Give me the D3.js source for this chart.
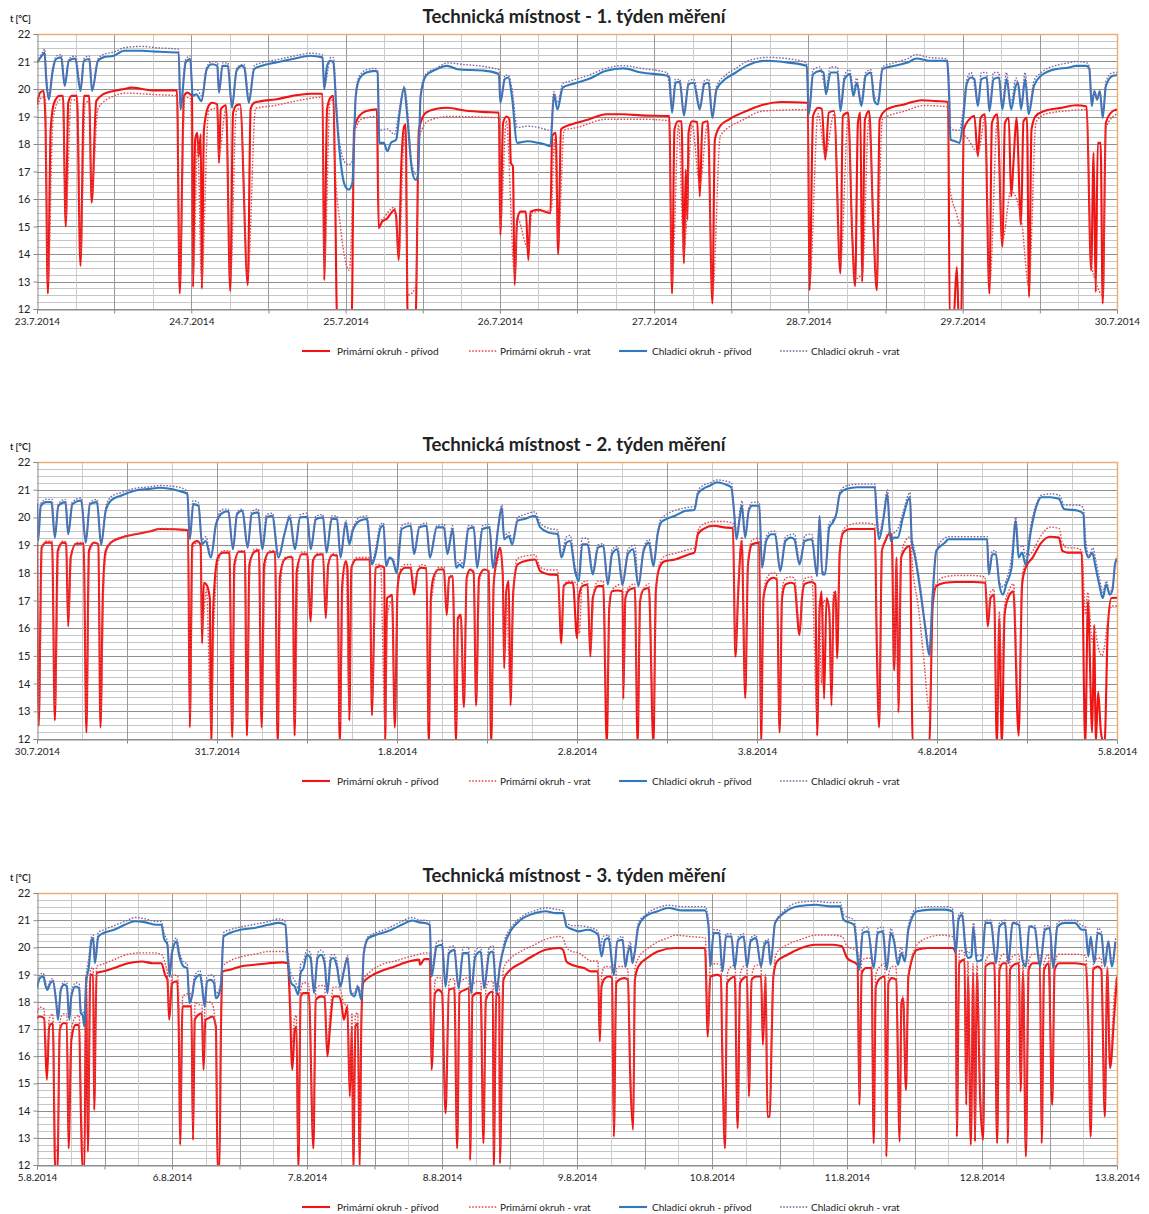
<!DOCTYPE html>
<html><head><meta charset="utf-8">
<script src="https://cdn.jsdelivr.net/npm/d3@7"></script>
<style>body{margin:0;background:#fff;} svg{display:block;font-family:Lato,'Open Sans',sans-serif;}</style>
</head><body><svg id="chart" width="1149" height="1214"></svg>
<script>
// ---------------- DATA ----------------
const seriesNames = ["Primární okruh - přívod", "Primární okruh - vrat", "Chladicí okruh - přívod", "Chladicí okruh - vrat"];
const titles = ["Technická místnost - 1. týden měření", "Technická místnost - 2. týden měření", "Technická místnost - 3. týden měření"];
const yAxisLabel = "t [°C]";
const yTicks = [12, 13, 14, 15, 16, 17, 18, 19, 20, 21, 22];
const week1Days = ["23.7.2014", "24.7.2014", "25.7.2014", "26.7.2014", "27.7.2014", "28.7.2014", "29.7.2014", "30.7.2014"];
const week2Days = ["30.7.2014", "31.7.2014", "1.8.2014", "2.8.2014", "3.8.2014", "4.8.2014", "5.8.2014"];
const week3Days = ["5.8.2014", "6.8.2014", "7.8.2014", "8.8.2014", "9.8.2014", "10.8.2014", "11.8.2014", "12.8.2014", "13.8.2014"];

// [hours since first day, °C]
const week1PrimarySupply = [[0,19.44],[0.49,19.87],[1.04,19.93],[1.31,18.8],[1.69,12.56],[2.13,18.53],[2.67,19.5],[3.49,19.75],[4.04,19.75],[4.47,15.0],[4.86,19.5],[5.4,19.75],[6.2,19.75],[6.76,13.57],[7.31,19.75],[8.1,19.75],[8.51,15.87],[9.22,19.56],[10.31,19.81],[11.95,19.93],[13.58,20.0],[14.68,20.05],[17.95,19.95],[21.77,19.95],[22.2,12.56],[22.86,19.75],[23.4,19.87],[23.84,19.81],[24.11,19.75],[24.28,12.8],[24.6,18.16],[24.93,18.41],[25.15,17.55],[25.48,18.35],[25.64,12.74],[25.97,18.53],[26.68,19.38],[27.22,19.5],[28.04,19.44],[28.31,17.31],[28.59,19.26],[29.4,19.41],[30.06,12.65],[30.5,19.14],[31.04,19.41],[31.59,19.44],[32.79,12.87],[33.23,19.26],[33.77,19.5],[34.86,19.56],[37.04,19.62],[39.77,19.75],[42.5,19.83],[44.41,19.83],[44.68,13.05],[45.12,19.26],[45.66,19.69],[46.1,19.75],[46.32,17.31],[46.7,11.5],[48.94,11.5],[49.32,18.53],[50.14,19.02],[51.23,19.2],[52.87,19.26],[53.14,14.94],[53.68,15.18],[54.5,15.3],[55.05,15.48],[55.59,15.61],[55.87,15.36],[56.25,13.78],[56.68,17.31],[57.12,18.65],[57.34,18.71],[57.67,11.5],[58.87,11.5],[59.41,18.53],[60.5,19.14],[62.14,19.28],[63.78,19.32],[66.5,19.22],[69.78,19.16],[71.85,19.14],[72.07,14.69],[72.5,18.77],[73.05,19.0],[73.49,18.89],[73.71,17.31],[74.03,17.19],[74.3,12.87],[74.69,15.24],[75.23,15.54],[76.05,15.54],[76.43,13.78],[76.76,15.54],[77.96,15.61],[79.05,15.54],[79.87,15.48],[80.14,18.29],[80.69,18.41],[81.07,14.0],[81.51,18.53],[82.32,18.65],[83.96,18.77],[85.8,18.89],[88.53,19.08],[91.25,19.08],[93.98,19.04],[98.35,19.02],[98.78,12.56],[99.16,18.53],[99.71,18.83],[100.26,18.83],[100.64,13.66],[100.91,17.07],[101.18,15.24],[101.35,18.41],[101.89,18.83],[102.71,18.8],[103.09,16.09],[103.53,18.77],[104.35,18.83],[105.06,12.2],[105.44,18.16],[106.26,18.65],[107.62,18.89],[110.35,19.2],[113.08,19.44],[115.8,19.53],[119.9,19.5],[120.17,12.68],[120.72,19.02],[121.53,19.32],[122.08,19.28],[122.62,17.43],[123.17,19.14],[123.99,19.2],[124.97,13.29],[125.35,19.02],[126.17,19.14],[126.82,14.63],[127.26,12.83],[127.7,18.77],[128.08,19.14],[128.35,12.99],[128.79,18.89],[129.44,19.2],[130.1,15.0],[130.64,12.68],[131.08,18.89],[132.17,19.26],[134.9,19.44],[137.63,19.59],[139.81,19.56],[141.72,19.53],[141.99,11.5],[142.54,11.5],[143.08,13.53],[143.41,11.5],[143.74,11.5],[144.17,18.53],[144.99,18.89],[145.81,19.02],[146.35,17.55],[146.79,18.95],[147.45,19.08],[148.15,12.56],[148.54,18.77],[149.36,19.08],[150.17,14.27],[150.56,18.77],[151.16,18.95],[151.54,16.09],[151.92,17.43],[152.36,18.95],[153.07,15.06],[153.45,18.83],[153.99,18.95],[154.32,12.44],[154.7,18.53],[155.36,19.02],[156.72,19.2],[159.45,19.32],[161.63,19.41],[163.27,19.36],[163.98,13.41],[164.36,17.68],[164.69,12.62],[165.01,18.04],[165.45,18.04],[165.78,12.2],[166.27,18.77],[167.36,19.2],[168,19.25]];
const week1PrimaryReturn = [[0,19.3],[0.8,19.7],[1.3,19.6],[1.7,13.0],[2.5,18.9],[3.5,19.6],[4.0,19.6],[4.5,15.3],[5.3,19.6],[6.3,19.6],[6.8,14.0],[7.5,19.5],[8.1,19.55],[8.5,16.2],[9.5,19.3],[12,19.75],[14,19.85],[18,19.8],[21.8,19.75],[22.2,13.0],[23,19.7],[23.9,19.65],[24.3,13.2],[25,18.0],[25.6,13.0],[26.7,19.2],[28.0,19.3],[28.3,17.6],[29.4,19.3],[30.1,13.1],[31.0,19.2],[31.6,19.3],[32.8,13.2],[34,19.3],[37,19.4],[40,19.55],[44.4,19.7],[44.7,13.4],[45.6,19.6],[46.1,19.6],[46.3,17.5],[47.2,15.0],[48.6,13.4],[49.5,18.5],[50.5,18.9],[53.0,19.0],[53.2,15.2],[55.6,15.7],[56.3,14.0],[57.2,18.5],[57.7,12.5],[58.9,12.8],[59.5,18.3],[61,18.85],[64,19.0],[72,18.95],[72.1,15.0],[73,18.85],[74.3,13.2],[74.7,15.3],[76.4,14.2],[77,15.5],[80,15.6],[80.5,18.2],[81.1,14.5],[82,18.5],[84,18.6],[88.5,18.9],[94,18.9],[98.3,18.85],[98.8,13.0],[99.8,18.7],[100.6,14.0],[101.9,18.7],[103.1,16.5],[104.3,18.7],[105.1,12.6],[106.3,18.3],[110,18.9],[113,19.2],[119.9,19.25],[120.2,13.0],[121.5,19.1],[122.6,17.6],[124,19.1],[125,13.7],[126.2,19.0],[126.8,14.9],[127.3,13.1],[128.4,13.3],[129.4,18.9],[130.1,15.3],[130.6,13.0],[131.5,18.9],[135,19.2],[138,19.4],[141.7,19.35],[142,16.4],[143,15.5],[143.7,15.0],[144.2,18.3],[146.4,17.7],[147.5,19.0],[148.2,12.9],[149.4,18.9],[150.2,14.5],[151.5,16.3],[153.1,15.3],[154.3,12.8],[155.4,18.8],[157,19.1],[160,19.2],[163.3,19.25],[164,13.7],[164.7,13.0],[165.8,12.5],[166.3,18.6],[168,19.1]];
const week1CoolingSupply = [[0,20.96],[0.76,21.21],[1.15,21.33],[1.47,20.23],[1.85,19.62],[2.4,20.6],[2.95,21.09],[3.76,21.15],[4.31,20.11],[4.96,21.03],[5.95,21.11],[6.76,19.93],[7.31,21.03],[8.13,21.09],[8.57,19.93],[9.49,21.03],[10.31,21.15],[11.95,21.21],[13.58,21.39],[16.31,21.39],[18.49,21.36],[21.77,21.33],[22.04,21.33],[22.31,19.26],[23.13,20.96],[23.84,21.09],[24.22,19.75],[24.77,19.81],[25.59,19.56],[26.4,20.72],[27.22,20.9],[28.04,20.84],[28.31,19.87],[28.86,20.84],[29.68,20.84],[30.33,19.32],[31.04,20.66],[31.86,20.84],[32.24,20.78],[32.95,19.5],[33.77,20.72],[34.86,20.84],[37.04,20.96],[39.77,21.09],[42.5,21.21],[44.41,21.15],[44.68,19.99],[45.12,20.84],[45.66,21.03],[46.1,20.96],[46.59,19.14],[47.14,17.55],[47.95,16.46],[48.5,16.34],[49.05,16.58],[49.59,19.75],[50.14,20.36],[51.23,20.6],[52.59,20.66],[52.97,20.6],[53.25,18.04],[53.95,18.04],[54.5,17.74],[55.05,18.04],[55.87,18.16],[56.41,19.14],[57.12,20.05],[57.5,19.26],[58.32,17.07],[58.87,16.7],[59.25,16.82],[59.68,19.75],[60.5,20.48],[62.14,20.72],[63.78,20.84],[65.41,20.72],[69.78,20.66],[71.85,20.54],[72.07,19.5],[72.78,20.36],[73.32,20.42],[73.87,19.75],[74.69,18.04],[76.32,18.1],[77.96,18.04],[79.05,17.98],[79.87,17.92],[80.41,19.81],[80.96,19.26],[81.78,20.05],[83.14,20.17],[83.96,20.23],[85.8,20.36],[88.53,20.66],[91.25,20.75],[93.98,20.6],[98.07,20.48],[98.35,20.42],[98.78,19.14],[99.33,20.23],[99.98,20.26],[100.64,19.04],[101.35,20.17],[102.16,20.23],[103.09,19.26],[103.8,20.17],[104.46,20.23],[105.06,18.95],[105.71,19.99],[107.07,20.36],[108.71,20.6],[110.35,20.84],[113.62,21.03],[116.89,20.96],[119.73,20.84],[120.06,19.08],[120.72,20.54],[121.81,20.66],[122.35,20.6],[122.73,19.81],[123.44,20.6],[124.53,20.6],[124.97,19.2],[125.62,20.36],[126.44,20.54],[126.99,19.75],[127.53,20.23],[128.24,19.38],[128.9,20.48],[129.71,20.6],[130.26,19.56],[130.81,19.44],[131.52,20.72],[133.26,20.84],[135.44,20.96],[136.81,21.11],[138.72,21.03],[141.55,21.03],[141.88,19.75],[142.1,18.16],[142.81,18.1],[143.52,18.04],[144.06,18.89],[144.61,20.17],[145.26,20.42],[145.81,20.36],[146.35,19.38],[146.9,20.36],[147.72,20.42],[148.15,19.2],[148.81,20.36],[149.63,20.42],[150.17,19.26],[150.83,20.36],[151.54,19.26],[152.25,20.11],[152.63,20.23],[153.07,19.26],[153.72,20.36],[154.26,19.08],[155.08,20.11],[156.17,20.48],[158.36,20.72],[160.54,20.78],[161.63,20.84],[163.27,20.84],[163.7,20.72],[164.08,19.38],[164.47,19.93],[164.9,19.62],[165.34,19.93],[165.78,18.95],[166.27,20.11],[167.36,20.48],[168,20.5]];
const week1CoolingReturn = [[0,21.0],[0.8,21.3],[1.2,21.45],[1.5,20.4],[1.85,19.75],[2.4,20.7],[3,21.2],[3.8,21.25],[4.3,20.25],[5,21.1],[6,21.2],[6.8,20.05],[7.3,21.1],[8.1,21.2],[8.6,20.05],[9.5,21.1],[10.3,21.25],[12,21.35],[13.6,21.5],[16.3,21.55],[18.5,21.5],[22,21.45],[22.3,19.4],[23.1,21.05],[23.8,21.2],[24.2,20.0],[25,19.95],[25.6,19.75],[26.4,20.8],[27.2,21.0],[28.1,20.95],[28.3,20.0],[28.9,20.95],[29.7,20.95],[30.3,19.5],[31.2,20.8],[32.2,20.9],[33,19.65],[33.8,20.85],[34.9,20.95],[37,21.05],[40,21.2],[42.5,21.3],[44.4,21.25],[44.7,20.1],[45.7,21.15],[46.1,21.15],[46.6,19.4],[47.1,18.0],[48,17.3],[48.5,17.25],[49.1,17.4],[49.6,19.9],[50.1,20.45],[51.2,20.7],[52.6,20.75],[53,20.65],[53.3,18.5],[54.5,18.55],[55.6,18.35],[56.4,19.3],[57.1,20.1],[57.5,19.6],[58.3,17.3],[58.9,16.9],[59.3,17.0],[59.7,19.9],[60.5,20.55],[62.1,20.75],[63.8,20.95],[66,20.9],[70,20.8],[71.9,20.7],[72.1,19.6],[72.8,20.5],[73.3,20.5],[73.9,20.0],[74.7,18.6],[76.3,18.65],[78,18.6],[79.9,18.5],[80.4,19.9],[81,19.5],[81.8,20.2],[83.1,20.3],[85.8,20.5],[88.5,20.75],[91.3,20.85],[94,20.75],[98,20.6],[98.8,19.35],[99.3,20.35],[100,20.35],[100.6,19.2],[101.4,20.3],[102.2,20.35],[103.1,19.4],[103.8,20.3],[104.5,20.35],[105.1,19.1],[105.7,20.1],[107.1,20.5],[108.7,20.75],[110.4,21.0],[113.6,21.15],[116.9,21.1],[119.7,20.95],[120.1,19.25],[120.7,20.7],[121.8,20.8],[122.7,20.0],[123.4,20.8],[124.5,20.8],[125,19.4],[125.6,20.5],[126.4,20.7],[127,20.0],[127.5,20.4],[128.2,19.55],[128.9,20.6],[129.7,20.7],[130.3,19.7],[130.8,19.6],[131.5,20.8],[133.3,20.95],[135.4,21.1],[136.8,21.25],[138.7,21.15],[141.5,21.1],[141.9,20.2],[142.1,18.6],[142.8,18.5],[143.5,18.5],[144.1,19.3],[144.6,20.3],[145.3,20.6],[146.4,19.55],[146.9,20.6],[147.7,20.6],[148.2,19.4],[148.8,20.6],[149.6,20.6],[150.2,19.5],[150.8,20.6],[151.5,19.5],[152.3,20.4],[153.1,19.5],[153.7,20.6],[154.3,19.3],[155.1,20.3],[156.2,20.6],[158.4,20.85],[160.5,20.95],[161.6,21.0],[163.3,20.95],[163.7,20.8],[164.1,19.6],[164.5,19.9],[164.9,19.6],[165.3,19.9],[165.8,19.1],[166.3,20.3],[167.4,20.6],[168,20.6]];

const week2PrimarySupply = [[0,19.09],[0.23,12.48],[0.61,18.91],[1.21,19.09],[2.01,19.09],[2.38,12.67],[2.76,18.79],[3.41,19.09],[3.88,19.05],[4.16,16.06],[4.49,18.55],[5.19,19.05],[6.21,19.05],[6.59,12.24],[6.92,18.79],[7.62,19.09],[8.18,19.03],[8.46,12.42],[8.79,17.33],[9.16,18.79],[9.86,19.09],[11.26,19.27],[13.13,19.39],[15.0,19.49],[16.4,19.58],[20.14,19.54],[20.37,12.42],[20.7,19.03],[21.36,19.15],[21.82,19.01],[22.01,15.45],[22.24,17.64],[22.57,17.58],[23.04,17.09],[23.22,11.8],[23.5,16.73],[24.11,18.55],[24.81,18.73],[25.65,18.73],[26.03,12.06],[26.31,18.3],[26.92,18.76],[27.71,18.76],[27.99,12.12],[28.32,18.3],[29.02,18.76],[29.58,18.81],[29.95,12.42],[30.28,18.3],[30.89,18.73],[31.73,18.76],[32.1,11.8],[32.38,17.82],[32.99,18.48],[33.69,18.57],[34.07,18.55],[34.35,12.12],[34.63,18.06],[35.33,18.67],[36.03,18.67],[36.5,16.24],[36.78,18.42],[37.34,18.64],[38.13,18.67],[38.5,16.36],[38.83,18.3],[39.39,18.64],[40.05,18.61],[40.37,11.8],[40.7,17.58],[41.17,18.42],[41.4,18.12],[41.64,12.67],[41.92,18.18],[42.57,18.48],[43.74,18.48],[44.35,18.48],[44.67,12.85],[44.91,15.64],[45.14,18.18],[45.84,18.24],[46.31,18.18],[46.4,11.8],[46.68,17.09],[47.01,17.15],[47.34,17.21],[47.71,12.42],[48.08,17.45],[48.41,18.0],[49.11,18.18],[49.81,18.18],[50.28,17.21],[50.75,18.06],[51.21,18.18],[51.92,18.16],[52.24,11.8],[52.52,17.09],[52.85,17.82],[53.55,18.12],[54.25,18.12],[54.63,16.48],[54.95,17.82],[55.42,17.88],[55.89,11.8],[56.12,16.36],[56.5,16.48],[56.92,13.15],[57.29,17.82],[57.76,18.12],[58.22,18.0],[58.55,13.21],[58.93,17.82],[59.63,18.12],[60.23,18.06],[60.56,11.8],[60.89,17.58],[61.36,18.55],[61.73,18.91],[62.1,17.94],[62.29,14.55],[62.57,17.33],[62.9,17.7],[63.13,13.21],[63.5,17.33],[64.07,18.3],[65.0,18.42],[66.4,18.48],[67.1,18.06],[68.27,17.94],[69.44,17.92],[69.91,15.45],[70.23,17.52],[70.84,17.64],[71.45,17.64],[72.01,15.64],[72.23,17.09],[72.7,17.52],[73.4,17.58],[73.78,14.97],[74.1,17.09],[74.8,17.52],[75.5,17.52],[75.97,11.8],[76.3,16.73],[76.67,17.33],[77.37,17.36],[78.07,17.33],[78.17,13.45],[78.45,17.09],[79.01,17.39],[79.71,17.45],[80.08,11.8],[80.41,16.97],[80.88,17.39],[81.58,17.45],[82.19,11.8],[82.51,17.33],[82.98,18.18],[83.68,18.42],[85.08,18.48],[86.95,18.67],[87.65,18.73],[88.12,19.39],[88.82,19.58],[90.22,19.7],[91.63,19.64],[92.79,19.61],[93.12,14.97],[93.5,17.33],[93.96,19.15],[94.43,13.48],[94.8,18.3],[95.36,19.03],[96.3,19.09],[96.53,11.8],[96.86,17.09],[97.47,17.7],[98.17,17.82],[98.64,17.76],[99.01,12.24],[99.34,17.09],[99.8,17.58],[100.5,17.64],[100.97,17.6],[101.67,15.76],[102.0,17.09],[102.37,17.6],[103.31,17.67],[103.78,17.58],[104.01,12.12],[104.34,16.61],[104.62,17.33],[104.94,13.45],[105.27,17.09],[105.64,16.61],[105.93,13.21],[106.21,16.97],[106.49,17.33],[106.67,14.91],[107.05,18.79],[107.51,19.45],[108.45,19.58],[109.85,19.58],[111.72,19.58],[111.95,15.7],[112.28,12.42],[112.65,18.79],[113.12,19.15],[113.59,19.39],[113.96,19.39],[114.29,14.48],[114.62,18.55],[114.85,12.97],[115.22,18.55],[115.93,18.91],[116.39,18.97],[116.77,11.8],[118.96,11.8],[119.43,16.85],[119.9,17.52],[121.07,17.64],[122.47,17.67],[124.8,17.67],[126.44,17.64],[126.77,16.06],[127.14,17.09],[127.61,17.21],[127.98,11.8],[128.31,16.36],[128.64,11.8],[129.01,16.48],[129.48,17.09],[130.18,17.33],[130.88,12.12],[131.35,17.58],[131.81,18.18],[132.75,18.55],[133.92,19.09],[135.08,19.3],[136.25,19.27],[136.72,18.79],[137.42,18.73],[138.36,18.73],[139.29,18.73],[139.76,11.8],[140.13,16.97],[140.69,12.24],[140.97,16.12],[141.16,11.8],[141.49,13.7],[141.86,12.24],[142.33,11.8],[142.79,16.12],[143.26,17.09],[144,17.1]];
const week2PrimaryReturn = [[0,19.2],[0.25,13.0],[0.7,18.9],[1.3,19.15],[2,19.15],[2.4,13.2],[2.9,18.8],[3.5,19.15],[3.9,19.1],[4.2,16.5],[4.6,18.6],[5.3,19.1],[6.2,19.1],[6.6,12.8],[7.0,18.7],[7.7,19.1],[8.2,19.05],[8.5,12.9],[8.9,17.6],[9.3,18.8],[10,19.15],[11.3,19.3],[13.1,19.4],[15,19.5],[16.4,19.6],[20.1,19.55],[20.4,12.9],[20.8,18.9],[21.4,19.1],[21.8,18.9],[22.0,16.0],[22.6,17.4],[23.2,12.5],[23.6,16.2],[24.1,18.3],[24.8,18.8],[25.7,18.8],[26,12.6],[26.4,18.2],[27,18.8],[27.7,18.8],[28,12.7],[28.4,18.2],[29,18.85],[29.6,18.85],[30,13.0],[30.4,18.2],[31,18.8],[31.7,18.8],[32.1,12.6],[32.5,17.6],[33,18.55],[34.1,18.6],[34.4,12.7],[34.8,18.0],[35.3,18.75],[36,18.75],[36.5,16.6],[36.9,18.4],[37.3,18.7],[38.1,18.7],[38.5,16.7],[38.9,18.3],[39.4,18.7],[40,18.65],[40.4,12.6],[40.8,17.6],[41.2,18.4],[41.6,13.3],[42,18.3],[42.6,18.55],[44.3,18.55],[44.7,13.4],[45.2,18.3],[45.8,18.3],[46.4,12.5],[46.7,16.4],[47.3,17.0],[47.7,13.0],[48.1,17.4],[48.4,18.1],[49.1,18.3],[49.8,18.3],[50.3,17.6],[50.8,18.1],[51.2,18.3],[51.9,18.25],[52.2,12.6],[52.6,17.0],[53.6,18.2],[54.3,18.2],[54.6,16.8],[55,17.9],[55.4,17.9],[55.9,12.6],[56.2,16.3],[56.5,16.4],[56.9,13.6],[57.3,17.8],[58.2,18.1],[58.6,13.6],[59,17.7],[59.6,18.1],[60.2,18.1],[60.6,12.6],[60.9,17.7],[61.4,18.4],[61.8,18.9],[62.1,17.9],[62.3,15.0],[62.6,17.2],[63.1,13.6],[63.5,17.0],[64,18.5],[65,18.6],[66.4,18.65],[67.1,18.2],[68.3,18.1],[69.4,18.1],[69.9,16.0],[70.3,17.6],[71,17.7],[72,17.6],[72.3,15.8],[72.7,17.65],[73.4,17.7],[73.8,15.3],[74.3,17.4],[74.8,17.7],[75.5,17.7],[76,13.0],[76.4,17.2],[77.4,17.55],[78.1,17.6],[78.2,13.9],[78.5,17.3],[79.7,17.6],[80.1,12.8],[80.5,17.2],[81.6,17.6],[82.2,12.8],[82.6,17.6],[83,18.3],[83.7,18.6],[85,18.7],[87,18.85],[87.7,18.9],[88.1,19.5],[88.8,19.75],[90.2,19.85],[91.6,19.85],[92.8,19.8],[93.1,15.3],[93.5,17.6],[94,19.3],[94.4,14.0],[94.8,18.5],[95.4,19.2],[96.3,19.25],[96.5,12.7],[96.9,17.3],[97.5,17.9],[98.2,18.0],[98.6,17.95],[99,12.7],[99.3,17.3],[99.8,17.8],[100.5,17.85],[101,17.8],[101.7,16.0],[102,17.3],[102.4,17.8],[103.3,17.85],[104,12.9],[104.3,16.9],[104.6,14.0],[104.9,17.0],[105.6,16.8],[105.9,14.0],[106.2,17.3],[106.7,16.0],[107,18.8],[107.5,19.55],[108.5,19.75],[110,19.8],[111.7,19.75],[112,15.8],[112.3,12.8],[112.7,18.8],[113.1,19.2],[113.6,19.45],[114,19.4],[114.3,14.8],[114.6,18.5],[114.9,13.5],[115.2,18.6],[115.9,19.2],[116.4,19.3],[116.8,18.0],[117.5,16.8],[118.2,15.0],[119,13.0],[119.4,16.8],[119.9,17.6],[121,17.85],[122.5,17.9],[124.8,17.9],[126.4,17.85],[126.8,16.4],[127.1,17.3],[127.6,17.4],[128,13.0],[128.3,16.6],[128.6,14.5],[129,16.8],[129.5,17.3],[130.2,17.6],[130.9,13.1],[131.3,17.7],[131.8,18.4],[132.8,18.8],[133.9,19.35],[135.1,19.65],[136.3,19.6],[136.7,19.1],[137.4,18.9],[138.4,18.9],[139.3,18.8],[139.8,16.5],[140.1,17.3],[140.7,15.5],[141,16.0],[141.5,15.3],[142,15.0],[142.3,15.3],[142.8,16.3],[143.3,16.8],[144,16.8]];
const week2CoolingSupply = [[0,20.48],[0.14,19.15],[0.51,20.42],[1.21,20.55],[1.92,20.55],[2.38,19.27],[2.85,20.42],[3.79,20.55],[4.16,19.39],[4.72,20.48],[5.89,20.61],[6.5,19.09],[7.06,20.48],[7.99,20.55],[8.55,19.01],[9.16,20.24],[9.86,20.61],[11.26,20.79],[13.13,20.97],[15.0,21.03],[16.4,21.07],[18.74,20.97],[20.05,20.85],[20.37,19.21],[20.84,20.48],[21.54,20.42],[22.01,19.03],[22.48,19.15],[23.18,18.55],[23.88,19.76],[24.81,20.18],[25.51,20.22],[26.12,18.85],[26.68,20.12],[27.38,20.24],[28.08,18.91],[28.64,20.12],[29.49,20.18],[30.05,18.85],[30.65,20.0],[31.36,20.06],[32.2,18.55],[32.99,19.39],[33.69,20.0],[34.39,18.85],[35.09,20.0],[36.03,20.02],[36.5,18.85],[37.2,19.94],[38.13,20.0],[38.6,18.73],[39.3,19.94],[40.0,19.94],[40.47,18.55],[41.17,19.82],[41.64,19.03],[42.1,19.52],[43.04,19.88],[43.97,19.94],[44.67,18.3],[45.14,18.67],[45.84,19.64],[46.21,19.7],[46.54,18.24],[47.01,18.55],[47.48,18.42],[47.94,18.0],[48.64,19.58],[49.81,19.7],[50.28,18.67],[50.98,19.64],[51.92,19.7],[52.38,18.55],[53.32,19.64],[54.25,19.64],[54.72,18.67],[55.42,19.58],[55.89,18.18],[56.36,18.3],[56.82,18.18],[57.52,19.58],[58.22,19.64],[58.69,18.18],[59.39,19.58],[60.33,19.64],[60.79,18.18],[61.5,19.64],[61.96,20.36],[62.29,19.21],[62.9,19.33],[63.36,19.03],[64.07,19.88],[65.0,19.94],[66.4,20.06],[67.1,19.64],[68.27,19.45],[69.44,19.39],[69.91,18.55],[70.61,19.09],[71.07,19.15],[71.78,18.0],[72.24,17.7],[72.7,19.03],[73.4,19.03],[74.1,17.94],[74.8,18.91],[75.5,18.97],[76.11,17.58],[76.67,18.67],[77.37,18.85],[78.07,17.58],[78.78,18.67],[79.5,18.85],[80.18,17.52],[80.88,18.79],[81.58,19.09],[82.19,18.24],[82.75,19.39],[83.21,19.82],[83.92,19.94],[85.08,20.06],[86.49,20.24],[87.65,20.27],[88.12,20.85],[88.82,21.03],[89.76,21.15],[90.69,21.27],[91.63,21.21],[92.56,21.09],[92.93,20.24],[93.26,19.21],[93.73,20.06],[93.96,20.42],[94.43,19.27],[94.9,20.24],[95.36,20.42],[96.3,20.42],[96.67,18.18],[97.23,19.15],[97.93,19.39],[98.4,19.39],[99.1,18.06],[99.8,19.15],[100.5,19.27],[100.97,19.21],[101.67,18.3],[102.37,19.15],[103.31,19.21],[104.01,17.88],[104.34,20.06],[104.71,17.94],[105.08,17.94],[105.64,19.64],[106.11,19.82],[106.58,20.12],[107.05,20.85],[107.98,21.03],[109.38,21.09],[111.72,21.09],[111.95,20.0],[112.28,19.21],[112.89,20.0],[113.36,20.85],[113.82,19.15],[114.29,19.27],[114.76,19.27],[115.46,20.0],[116.39,20.73],[116.63,19.15],[117.09,18.55],[117.79,17.33],[118.5,15.88],[118.96,15.03],[119.43,17.21],[119.9,18.79],[121.07,19.09],[121.53,19.21],[123.4,19.21],[126.67,19.21],[126.91,17.94],[127.38,18.67],[127.84,18.67],[128.31,17.58],[128.78,17.21],[129.24,17.58],[129.94,18.18],[130.5,19.88],[130.88,18.55],[131.35,18.73],[131.81,18.3],[132.52,19.52],[133.21,20.36],[133.92,20.73],[135.08,20.73],[136.25,20.67],[136.95,20.3],[138.82,20.24],[139.52,20.12],[139.76,18.91],[140.22,18.55],[140.69,18.73],[141.16,18.18],[141.63,17.58],[142.1,17.09],[142.56,17.58],[143.03,17.21],[143.4,17.39],[143.73,18.3],[144,18.5]];
const week2CoolingReturn = [[0,20.65],[0.15,19.3],[0.5,20.5],[1.2,20.65],[2,20.65],[2.4,19.4],[2.85,20.5],[3.8,20.65],[4.2,19.5],[4.7,20.55],[5.9,20.7],[6.5,19.2],[7.1,20.55],[8,20.65],[8.55,19.1],[9.2,20.4],[9.9,20.75],[11.3,20.9],[13.1,21.05],[15,21.1],[16.4,21.15],[18.7,21.1],[20,20.95],[20.4,19.3],[20.8,20.6],[21.5,20.55],[22,19.2],[22.5,19.3],[23.2,18.65],[23.9,19.85],[24.8,20.3],[25.5,20.3],[26.1,18.95],[26.7,20.2],[27.4,20.3],[28.1,19.0],[28.6,20.2],[29.5,20.3],[30,18.95],[30.6,20.1],[31.4,20.15],[32.2,18.65],[33,19.45],[33.7,20.1],[34.4,18.95],[35.1,20.1],[36,20.15],[36.5,18.95],[37.2,20.05],[38.1,20.1],[38.6,18.85],[39.3,20.05],[40,20.05],[40.5,18.65],[41.2,19.9],[41.6,19.2],[42.1,19.6],[43,20.0],[44,20.05],[44.7,18.4],[45.1,18.8],[45.8,19.75],[46.2,19.8],[46.5,18.35],[47,18.5],[47.5,18.5],[47.9,18.1],[48.6,19.7],[49.8,19.8],[50.3,18.8],[51,19.7],[51.9,19.8],[52.4,18.65],[53.3,19.7],[54.3,19.75],[54.7,18.8],[55.4,19.7],[55.9,18.3],[56.4,18.45],[56.8,18.3],[57.5,19.7],[58.2,19.7],[58.7,18.3],[59.4,19.7],[60.3,19.75],[60.8,18.3],[61.5,19.75],[62,20.45],[62.3,19.35],[62.9,19.45],[63.4,19.2],[64.1,20.0],[65,20.1],[66.4,20.2],[67.1,19.8],[68.3,19.6],[69.4,19.55],[69.9,18.7],[70.6,19.3],[71.1,19.35],[71.8,18.15],[72.2,17.9],[72.7,19.25],[73.4,19.25],[74.1,18.1],[74.8,19.0],[75.5,19.05],[76.1,17.7],[76.7,18.85],[77.4,18.95],[78.1,17.7],[78.8,18.85],[79.7,19.0],[80.2,17.6],[80.9,18.9],[81.6,19.2],[82.2,18.4],[82.8,19.55],[83.2,19.95],[83.9,20.1],[86.5,20.35],[87.7,20.4],[88.1,20.95],[88.8,21.15],[89.8,21.25],[90.7,21.35],[92.6,21.25],[92.9,20.4],[93.3,19.4],[93.7,20.2],[94,20.6],[94.4,19.4],[94.9,20.3],[95.4,20.55],[96.3,20.55],[96.7,18.3],[97.2,19.3],[98,19.5],[98.4,19.5],[99.1,18.2],[99.8,19.3],[101,19.4],[101.7,18.4],[102.4,19.35],[103.3,19.4],[104,17.9],[104.3,20.0],[104.7,18.0],[105.1,18.1],[105.6,19.8],[106.1,19.9],[106.6,20.2],[107,20.9],[108,21.15],[109.4,21.2],[111.7,21.2],[112,20.2],[112.3,19.4],[112.9,20.2],[113.4,21.0],[113.8,19.4],[114.3,19.45],[114.8,19.6],[115.5,20.2],[116.4,20.9],[116.6,19.5],[117.1,18.7],[117.8,17.5],[118.5,16.0],[119,15.2],[119.4,17.3],[119.9,18.8],[121,19.25],[121.5,19.3],[123.4,19.3],[126.7,19.3],[126.9,18.1],[127.4,18.8],[127.8,18.8],[128.3,17.7],[128.8,17.5],[129.2,17.7],[129.9,18.5],[130.5,20.0],[130.9,18.9],[131.4,19.0],[131.8,18.6],[132.5,19.7],[133.2,20.45],[133.9,20.8],[135.1,20.85],[136.3,20.8],[137,20.45],[138.8,20.45],[139.5,20.35],[139.8,19.3],[140.2,18.6],[140.8,18.9],[141.2,18.4],[141.6,17.9],[142.1,17.3],[142.6,17.7],[143,17.3],[143.4,17.5],[143.8,18.4],[144,18.6]];

const week3PrimarySupply = [[0,17.4],[0.5,17.46],[1.25,17.4],[1.75,15.13],[2.18,17.09],[2.81,17.21],[3.24,11.8],[3.62,11.8],[4.05,16.97],[4.68,17.21],[5.3,17.21],[5.61,12.61],[6.11,16.6],[6.86,17.15],[7.48,17.15],[7.79,14.02],[8.1,11.8],[8.42,11.8],[8.73,18.93],[9.04,12.49],[9.48,18.99],[9.98,18.99],[10.16,14.02],[10.6,19.06],[11.85,19.12],[13.72,19.24],[16.21,19.42],[18.7,19.48],[20.57,19.42],[22.13,19.42],[22.76,18.99],[23.19,18.81],[23.5,17.34],[24.0,18.69],[24.94,18.75],[25.25,16.36],[25.44,12.74],[25.87,17.83],[26.81,17.83],[27.43,17.83],[27.74,12.92],[28.05,17.34],[28.68,17.52],[29.3,17.58],[29.61,15.5],[29.93,17.34],[30.55,17.4],[31.17,17.46],[31.8,17.09],[32.11,11.8],[32.42,11.8],[32.73,17.34],[33.04,19.12],[34.29,19.18],[36.16,19.3],[38.65,19.36],[41.15,19.42],[43.64,19.45],[44.58,19.42],[44.89,18.32],[45.39,15.5],[45.82,16.97],[46.13,17.09],[46.45,11.8],[46.88,18.2],[47.38,18.32],[48.32,18.32],[49.13,12.61],[49.56,18.07],[50.5,18.2],[51.12,18.17],[51.62,15.99],[52.06,16.97],[52.68,18.2],[53.62,18.2],[54.11,17.95],[54.55,17.34],[55.17,17.83],[55.61,14.52],[55.99,17.09],[56.23,11.8],[56.61,17.09],[57.04,17.21],[57.36,11.8],[57.67,17.34],[57.98,18.69],[59.23,18.93],[61.1,19.12],[63.59,19.3],[66.08,19.48],[67.96,19.55],[68.08,19.36],[68.89,19.57],[69.83,19.57],[70.14,15.5],[70.76,18.32],[71.38,18.44],[72.01,18.32],[72.63,13.9],[73.25,18.44],[74.19,18.5],[74.69,12.61],[75.12,18.32],[76.06,18.44],[76.81,18.5],[76.99,12.18],[77.43,18.2],[78.24,18.32],[78.87,18.32],[79.36,12.8],[79.8,18.07],[80.42,18.32],[81.05,18.38],[81.17,11.8],[81.67,18.32],[82.17,18.2],[82.29,12.06],[82.92,18.81],[84.16,19.18],[86.03,19.42],[88.53,19.73],[90.4,19.91],[92.89,19.98],[93.52,19.91],[94.14,19.48],[95.07,19.36],[96.0,19.3],[97.25,19.24],[98.49,19.12],[99.74,19.12],[100.05,16.54],[100.36,18.56],[100.99,18.87],[101.74,18.93],[102.23,18.87],[102.55,13.04],[102.98,18.69],[103.48,18.81],[104.42,18.87],[105.04,18.81],[105.48,15.13],[105.98,13.29],[106.29,18.81],[106.91,19.3],[108.47,19.61],[110.34,19.85],[113.46,19.98],[115.95,19.98],[118.76,19.98],[119.25,16.72],[119.69,18.93],[120.94,18.99],[121.56,18.93],[121.87,15.62],[122.31,12.61],[122.68,18.69],[123.43,18.87],[124.05,18.93],[124.55,13.35],[124.99,18.69],[125.61,18.87],[126.24,18.93],[126.55,14.52],[127.05,18.81],[127.8,18.93],[128.73,18.93],[129.04,16.42],[129.54,18.93],[129.85,13.78],[130.29,13.78],[130.6,16.6],[130.91,18.93],[131.54,19.48],[133.41,19.73],[135.9,19.98],[138.39,20.1],[141.51,20.1],[143.07,20.04],[144.01,19.61],[145.88,19.36],[146.19,14.21],[146.62,19.06],[147.43,19.24],[148.37,19.24],[148.74,12.8],[149.12,18.56],[149.93,18.87],[150.74,18.93],[150.99,12.31],[151.36,18.69],[151.99,18.87],[152.73,18.81],[153.36,12.86],[153.67,17.95],[153.98,18.13],[154.48,14.76],[154.91,18.93],[156.47,19.91],[158.34,19.98],[160.84,19.98],[162.71,19.98],[163.33,19.79],[163.52,13.04],[163.95,19.42],[164.89,19.55],[165.2,14.21],[165.51,18.93],[166.01,12.74],[166.45,19.06],[166.76,12.86],[167.07,19.06],[167.7,14.27],[168.19,12.92],[168.63,19.3],[169.56,19.42],[170.19,19.42],[170.69,12.8],[171.12,19.18],[171.75,19.42],[172.37,19.42],[172.56,12.8],[172.99,19.18],[173.62,19.36],[174.56,19.42],[174.86,14.7],[175.3,19.06],[175.8,12.31],[176.3,19.18],[177.05,19.42],[178.29,19.42],[178.61,12.8],[179.04,19.18],[179.85,19.42],[180.48,14.21],[180.91,19.18],[181.72,19.42],[184.53,19.42],[186.4,19.36],[186.9,17.21],[187.33,13.04],[187.77,19.18],[188.58,19.3],[189.21,19.18],[189.83,13.78],[190.27,19.18],[190.77,15.56],[191.5,17.5],[192,18.9]];
const week3PrimaryReturn = [[0,17.6],[0.5,17.8],[1.2,17.75],[1.75,16.0],[2.2,17.4],[2.8,17.55],[3.3,12.5],[3.7,12.8],[4.1,17.3],[4.7,17.55],[5.3,17.55],[5.6,13.2],[6.1,17.0],[6.9,17.45],[7.5,17.5],[7.8,14.8],[8.2,12.5],[8.5,13.0],[8.8,19.0],[9.1,13.5],[9.5,19.2],[10,19.25],[10.2,14.8],[10.6,19.3],[11.9,19.4],[13.7,19.55],[16.2,19.75],[18.7,19.8],[20.6,19.8],[22.1,19.75],[22.8,19.4],[23.2,19.0],[23.5,17.8],[24,19.0],[25,18.95],[25.3,17.0],[25.5,13.3],[25.9,18.2],[26.8,18.3],[27.4,18.3],[27.7,13.5],[28.1,18.0],[28.7,17.9],[29.3,17.9],[29.6,16.2],[29.9,18.0],[30.6,18.0],[31.2,17.9],[31.8,16.8],[32.1,12.5],[32.4,12.6],[32.7,17.8],[33,19.3],[34.3,19.5],[36.2,19.65],[38.7,19.75],[41.2,19.85],[43.6,19.85],[44.6,19.8],[44.9,18.9],[45.4,16.5],[45.8,17.4],[46.1,17.5],[46.4,12.7],[46.9,18.5],[47.4,18.7],[48.3,18.65],[49.1,13.3],[49.6,18.5],[50.5,18.6],[51.1,18.6],[51.6,16.5],[52.1,17.6],[52.7,18.55],[53.6,18.55],[54.1,18.3],[54.6,17.9],[55.2,17.9],[55.6,15.0],[56,17.6],[56.2,12.5],[56.6,17.5],[57,17.6],[57.4,12.6],[57.7,17.7],[58,18.8],[59.2,19.1],[61.1,19.35],[63.6,19.5],[66.1,19.65],[68,19.75],[68.9,19.8],[69.8,19.8],[70.1,16.0],[70.8,18.8],[71.4,18.9],[72,18.8],[72.6,14.4],[73.3,18.8],[74.2,18.85],[74.7,13.3],[75.1,18.7],[76.1,18.85],[76.8,18.9],[77,12.8],[77.4,18.6],[78.2,18.75],[78.9,18.75],[79.4,13.3],[79.8,18.5],[80.4,18.75],[81.1,18.75],[81.2,12.5],[81.7,18.7],[82.2,18.6],[82.3,12.6],[82.9,19.2],[84.2,19.6],[86,19.85],[88.5,20.1],[90.4,20.3],[92.9,20.4],[93.5,20.35],[94.1,20.0],[95.1,19.85],[96.3,19.8],[97.3,19.65],[98.5,19.5],[99.7,19.5],[100.1,17.0],[100.4,19.0],[101,19.3],[101.7,19.3],[102.2,19.2],[102.5,13.5],[103,19.2],[103.5,19.3],[104.4,19.3],[105,19.2],[105.5,15.6],[106,13.8],[106.3,19.2],[106.9,19.6],[108.5,19.95],[110.3,20.2],[112.2,20.35],[113.5,20.45],[116,20.4],[118.8,20.35],[119.3,17.0],[119.7,19.4],[120.9,19.4],[121.6,19.35],[121.9,16.0],[122.3,13.1],[122.7,19.0],[123.4,19.3],[124.1,19.35],[124.6,13.9],[125,19.0],[125.6,19.3],[126.2,19.35],[126.6,15.0],[127.1,19.0],[127.8,19.35],[128.7,19.35],[129,16.9],[129.5,19.0],[129.9,14.3],[130.3,14.3],[130.6,17.0],[130.9,19.0],[131.5,19.8],[133.4,20.1],[135.9,20.3],[138.4,20.45],[141.5,20.45],[143.1,20.4],[144,20.05],[145.9,19.85],[146.2,14.7],[146.6,19.5],[147.4,19.6],[148.4,19.6],[148.7,13.3],[149.1,19.0],[149.9,19.3],[150.7,19.4],[151,12.8],[151.4,19.0],[152,19.3],[152.7,19.3],[153.4,13.4],[153.7,18.1],[154,18.2],[154.5,15.3],[154.9,19.0],[156.5,20.1],[158.3,20.35],[160.8,20.45],[162.7,20.4],[163.3,20.1],[163.5,13.5],[164,19.9],[164.9,19.8],[165.2,14.7],[165.5,19.5],[166,13.3],[166.4,19.4],[166.8,13.4],[167.1,19.4],[167.7,14.8],[168.2,13.4],[168.6,19.5],[169.6,19.75],[170.2,19.75],[170.7,13.3],[171.1,19.5],[171.7,19.75],[172.4,19.75],[172.6,13.3],[173,19.5],[173.6,19.7],[174.6,19.75],[174.9,15.2],[175.3,19.4],[175.8,12.8],[176.3,19.5],[177,19.75],[178.3,19.75],[178.6,13.3],[179,19.4],[179.8,19.75],[180.5,14.7],[180.9,19.4],[181.7,19.75],[184.5,19.75],[186.4,19.7],[186.9,17.7],[187.3,13.5],[187.8,19.4],[188.6,19.6],[189.2,19.6],[189.8,14.3],[190.3,19.3],[190.8,16.0],[191.5,18.2],[192,19.0]];
const week3CoolingSupply = [[0,18.5],[0.5,18.87],[1.12,18.93],[1.56,18.56],[1.87,18.44],[2.37,18.69],[2.81,18.75],[3.43,17.95],[3.74,17.34],[4.24,18.44],[4.86,18.63],[5.3,18.56],[5.74,17.34],[6.11,18.2],[6.86,18.56],[7.48,18.5],[7.79,17.58],[8.1,17.52],[8.42,17.09],[8.73,18.69],[9.23,19.3],[9.66,20.22],[9.98,20.34],[10.29,19.42],[10.91,20.4],[11.85,20.53],[13.72,20.65],[15.59,20.83],[17.46,20.96],[19.33,20.92],[21.2,20.83],[22.13,20.83],[22.57,20.34],[23.19,20.1],[23.57,18.93],[24.0,19.79],[24.81,20.22],[25.25,19.73],[26.06,19.3],[26.68,19.24],[27.12,17.95],[27.56,18.2],[28.05,18.81],[28.99,18.99],[29.3,18.63],[29.8,17.83],[30.24,18.75],[30.86,18.81],[31.48,18.69],[31.8,18.13],[32.42,18.32],[32.73,18.69],[33.17,20.4],[34.29,20.53],[36.16,20.65],[38.65,20.71],[41.15,20.83],[43.02,20.9],[44.14,20.83],[44.58,19.55],[45.2,18.69],[45.82,18.56],[46.45,18.26],[46.88,19.06],[47.38,19.24],[48.0,19.73],[48.63,19.61],[49.25,18.32],[49.88,19.61],[50.5,19.73],[51.12,19.42],[51.62,18.32],[52.24,19.55],[52.68,19.61],[53.31,19.3],[53.93,18.56],[54.55,19.12],[55.17,19.61],[55.8,18.32],[56.42,18.2],[57.04,18.56],[57.67,18.07],[58.1,19.79],[58.92,20.34],[60.47,20.47],[62.34,20.59],[64.84,20.83],[66.71,20.99],[67.96,20.92],[68.89,20.9],[69.83,20.83],[70.14,18.93],[71.07,20.04],[72.01,20.1],[72.63,18.56],[73.25,19.79],[74.19,19.91],[74.94,18.5],[75.75,19.79],[76.68,19.79],[77.18,18.32],[77.93,19.67],[78.87,19.85],[79.49,18.5],[80.42,19.79],[81.05,19.85],[81.67,18.32],[82.29,19.3],[83.23,20.16],[84.16,20.59],[86.03,21.02],[88.53,21.26],[90.4,21.33],[92.27,21.26],[93.52,21.26],[94.14,20.77],[95.39,20.65],[96.32,20.59],[97.87,20.65],[99.74,20.47],[100.36,19.67],[100.99,20.28],[101.61,20.34],[102.55,18.99],[103.17,20.22],[104.1,20.28],[104.6,19.3],[105.04,19.79],[105.48,20.04],[105.85,19.42],[106.29,19.85],[106.91,20.77],[108.16,21.14],[110.34,21.33],[112.21,21.45],[114.7,21.36],[118.76,21.36],[119.38,20.77],[119.69,19.3],[120.31,20.53],[121.25,20.53],[121.87,19.12],[122.5,20.4],[123.43,20.4],[124.05,19.24],[124.68,20.28],[125.61,20.4],[126.24,19.3],[126.86,20.22],[127.8,20.34],[128.73,19.3],[129.35,20.1],[129.98,20.22],[130.41,19.36],[131.22,20.9],[132.78,21.26],[135.28,21.51],[138.39,21.57],[140.89,21.51],[142.76,21.51],[143.38,21.02],[145.25,20.83],[146.19,19.18],[146.81,20.53],[147.74,20.59],[148.74,19.24],[149.49,20.53],[150.36,20.59],[151.05,19.18],[151.8,20.53],[152.42,20.16],[153.04,19.36],[153.67,19.79],[154.29,19.48],[154.91,20.65],[156.47,21.33],[158.97,21.39],[161.46,21.39],[162.71,21.33],[163.33,19.79],[163.83,21.02],[164.45,21.2],[165.08,19.91],[165.51,19.61],[166.13,19.67],[166.45,20.77],[167.07,19.48],[168.01,19.55],[168.63,20.9],[169.56,20.9],[170.5,19.42],[171.12,20.77],[172.06,20.9],[172.68,19.42],[173.43,20.9],[174.56,20.83],[175.18,19.55],[175.8,19.3],[176.42,20.77],[177.36,20.71],[178.29,19.3],[179.23,20.65],[180.04,20.71],[180.66,19.24],[181.41,20.77],[182.66,20.9],[184.53,20.9],[185.78,20.65],[186.4,20.65],[186.9,19.67],[187.33,20.4],[187.96,19.42],[188.58,20.53],[189.21,20.47],[189.83,19.3],[190.45,20.22],[191.08,19.3],[191.7,20.2]];
const week3CoolingReturn = [[0,18.7],[0.5,19.0],[1.1,19.05],[1.6,18.65],[1.9,18.55],[2.4,18.8],[2.8,18.85],[3.4,18.1],[3.7,17.5],[4.2,18.45],[4.9,18.75],[5.3,18.7],[5.7,17.5],[6.1,18.35],[6.9,18.7],[7.5,18.65],[7.8,17.7],[8.4,17.6],[8.7,18.8],[9.2,19.6],[9.7,20.4],[10,20.45],[10.3,19.6],[10.9,20.55],[11.9,20.65],[13.7,20.8],[15.6,20.95],[17.5,21.1],[19.3,21.05],[21.2,20.95],[22.1,20.95],[22.6,20.5],[23.2,20.2],[23.6,19.1],[24,20.0],[24.8,20.35],[25.3,19.85],[26.1,19.45],[26.7,19.4],[27.1,18.1],[27.6,18.3],[28,18.95],[29,19.15],[29.3,18.8],[29.8,18.0],[30.2,18.9],[30.9,19.0],[31.5,18.9],[31.8,18.3],[32.4,18.45],[32.7,18.8],[33.2,20.55],[34.3,20.65],[36.2,20.75],[38.7,20.85],[41.2,20.95],[43,21.05],[44.1,20.95],[44.6,19.7],[45.2,19.0],[45.8,18.8],[46.5,18.5],[46.9,19.4],[47.4,19.5],[48,19.9],[48.6,19.8],[49.3,18.5],[49.9,19.8],[50.5,19.9],[51.1,19.7],[51.6,18.5],[52.2,19.7],[52.7,19.75],[53.3,19.5],[53.9,18.7],[54.6,19.2],[55.2,19.7],[55.8,18.4],[56.4,18.3],[57,18.6],[57.7,18.3],[58.1,19.9],[58.9,20.4],[60.5,20.55],[62.3,20.7],[64.8,20.95],[66.7,21.1],[68,21.0],[68.9,21.0],[69.8,20.95],[70.1,19.2],[71.1,20.2],[72,20.25],[72.6,18.8],[73.3,20.0],[74.2,20.05],[74.9,18.6],[75.8,20.0],[76.7,20.0],[77.2,18.5],[77.9,19.9],[78.9,20.0],[79.5,18.7],[80.4,20.0],[81.1,20.05],[81.7,18.5],[82.3,19.4],[83.2,20.3],[84.2,20.7],[86,21.1],[88.5,21.35],[90.4,21.45],[92.3,21.4],[93.5,21.35],[94.1,20.9],[95.4,20.8],[96.3,20.8],[97.9,20.75],[99.7,20.6],[100.1,19.9],[100.6,20.4],[101.6,20.45],[102.6,19.2],[103.2,20.3],[104.1,20.4],[104.6,19.4],[105.1,20.0],[105.5,20.2],[105.9,19.5],[106.3,19.95],[106.9,20.9],[108.2,21.2],[110.3,21.45],[112.2,21.55],[114.7,21.5],[118.8,21.5],[119.4,20.9],[119.7,19.4],[120.3,20.65],[121.3,20.65],[121.9,19.3],[122.5,20.5],[123.4,20.5],[124.1,19.4],[124.7,20.4],[125.6,20.5],[126.2,19.4],[126.9,20.35],[127.8,20.45],[128.7,19.4],[129.3,20.2],[130,20.3],[130.4,19.5],[131.2,20.9],[132.8,21.35],[135.3,21.65],[138.4,21.7],[140.9,21.65],[142.8,21.65],[143.4,21.2],[145.3,21.0],[146.2,19.4],[146.8,20.7],[147.7,20.75],[148.7,19.4],[149.5,20.7],[150.4,20.75],[151.1,19.35],[151.8,20.7],[152.4,20.3],[153,19.5],[153.6,20.0],[154.3,19.6],[154.9,20.8],[156.5,21.45],[159,21.5],[161.5,21.5],[162.7,21.45],[163.3,20.0],[163.8,21.15],[164.5,21.3],[165.1,20.1],[165.5,19.8],[166.1,19.9],[166.5,20.9],[167.1,19.7],[168,19.7],[168.6,21.0],[169.6,21.0],[170.5,19.5],[171.1,20.9],[172.1,21.0],[172.7,19.4],[173.4,20.9],[174.6,20.95],[175.2,19.7],[175.8,19.4],[176.4,20.8],[177.4,20.8],[178.3,19.4],[179.2,20.8],[180,20.8],[180.7,19.4],[181.4,20.9],[182.7,21.0],[184.5,21.0],[185.8,20.8],[186.4,20.75],[186.9,19.9],[187.3,20.2],[188,19.5],[188.6,20.7],[189.2,20.6],[189.8,19.4],[190.5,20.2],[191.1,19.5],[191.8,20.4]];

// ---------------- STYLE / LAYOUT ----------------
const seriesStyles = [
  {color: "#F01414", width: 2.1, dash: null},
  {color: "#E8464A", width: 1.4, dash: "1.6,1.6"},
  {color: "#2F79BC", width: 2.1, dash: null},
  {color: "#8064A2", width: 1.4, dash: "1.6,1.6"}
];
const plotLeft = 37, plotRight = 1117;
const panelLayout = [{top: 34, bottom: 309}, {top: 462, bottom: 739}, {top: 893, bottom: 1165}];
const legendPos = [{line: 302, text: 337}, {line: 469, text: 500}, {line: 619, text: 652}, {line: 780, text: 811}];

const svg = d3.select("#chart");
svg.append("rect").attr("width", 1149).attr("height", 1214).attr("fill", "#fff");

const panelsData = [
  {title: titles[0], days: week1Days, series: [week1PrimarySupply, week1PrimaryReturn, week1CoolingSupply, week1CoolingReturn]},
  {title: titles[1], days: week2Days, series: [week2PrimarySupply, week2PrimaryReturn, week2CoolingSupply, week2CoolingReturn]},
  {title: titles[2], days: week3Days, series: [week3PrimarySupply, week3PrimaryReturn, week3CoolingSupply, week3CoolingReturn]}
];

panelsData.forEach((p, i) => {
  const L = panelLayout[i];
  const maxH = (p.days.length - 1) * 24;
  const x = d3.scaleLinear().domain([0, maxH]).range([plotLeft, plotRight]);
  const y = d3.scaleLinear().domain([12, 22]).range([L.bottom, L.top]);
  const g = svg.append("g");

  // grid
  const hGrid = d3.range(12, 22.001, 0.25);
  g.append("g").selectAll("line").data(hGrid).join("line")
    .attr("x1", plotLeft).attr("x2", plotRight)
    .attr("y1", d => Math.round(y(d)) + 0.5).attr("y2", d => Math.round(y(d)) + 0.5)
    .attr("stroke", d => Math.abs(d - Math.round(d)) < 1e-6 ? "#8f8f8f" : "#c6c6c6")
    .attr("stroke-width", 1);
  const vGrid = d3.range(6, maxH, 6);
  g.append("g").selectAll("line").data(vGrid).join("line")
    .attr("y1", L.top).attr("y2", L.bottom)
    .attr("x1", d => Math.round(x(d)) + 0.5).attr("x2", d => Math.round(x(d)) + 0.5)
    .attr("stroke", d => d % 12 === 0 ? "#9a9a9a" : "#cccccc")
    .attr("stroke-width", 1);

  // plot border top/right (orange)
  g.append("line").attr("x1", plotLeft).attr("x2", plotRight + 1).attr("y1", L.top + 0.5).attr("y2", L.top + 0.5)
    .attr("stroke", "#EBAE75").attr("stroke-width", 1.5);
  g.append("line").attr("x1", plotRight + 0.5).attr("x2", plotRight + 0.5).attr("y1", L.top).attr("y2", L.bottom)
    .attr("stroke", "#EBAE75").attr("stroke-width", 1.5);

  // series
  const clipId = "clip" + i;
  svg.append("clipPath").attr("id", clipId).append("rect")
    .attr("x", plotLeft).attr("y", L.top).attr("width", plotRight - plotLeft).attr("height", L.bottom - L.top);
  const line = d3.line().curve(d3.curveMonotoneX).x(d => x(d[0])).y(d => y(d[1]));
  const sg = g.append("g").attr("clip-path", `url(#${clipId})`);
  p.series.forEach((s, k) => {
    const st = seriesStyles[k];
    sg.append("path").datum(s).attr("d", line)
      .attr("fill", "none").attr("stroke", st.color).attr("stroke-width", st.width)
      .attr("stroke-linejoin", "round")
      .attr("stroke-dasharray", st.dash);
  });

  // axes
  const yAxis = d3.axisLeft(y).tickValues(yTicks).tickSize(4).tickPadding(3).tickFormat(d3.format("d"));
  const ya = g.append("g").attr("transform", `translate(${plotLeft + 0.5},0)`).call(yAxis);
  ya.select(".domain").attr("stroke", "#8a8a8a");
  ya.selectAll(".tick line").attr("stroke", "#8a8a8a");
  ya.selectAll("text").attr("font-size", 11).attr("fill", "#222").attr("font-family", "Lato, sans-serif");

  const xAxis = d3.axisBottom(x).tickValues(d3.range(0, maxH + 1, 12)).tickSize(4).tickPadding(4)
    .tickFormat(h => h % 24 === 0 ? p.days[h / 24] : "");
  const xa = g.append("g").attr("transform", `translate(0,${L.bottom + 0.5})`).call(xAxis);
  xa.select(".domain").attr("stroke", "#8a8a8a");
  xa.selectAll(".tick line").attr("stroke", "#8a8a8a");
  xa.selectAll("text").attr("font-size", 10).attr("fill", "#222").attr("font-family", "Lato, sans-serif");

  // title + y label
  g.append("text").attr("x", 574).attr("y", L.top - 11).attr("text-anchor", "middle")
    .attr("font-size", 18.6).attr("font-weight", "bold").attr("fill", "#222").text(p.title);
  g.append("text").attr("x", 10).attr("y", L.top - 12)
    .attr("font-size", 9).attr("font-weight", "bold").attr("fill", "#222").text(yAxisLabel);

  // legend
  const ly = L.bottom + 42;
  seriesNames.forEach((name, k) => {
    const st = seriesStyles[k];
    g.append("line").attr("x1", legendPos[k].line).attr("x2", legendPos[k].line + 28)
      .attr("y1", ly).attr("y2", ly).attr("stroke", st.color).attr("stroke-width", st.width)
      .attr("stroke-dasharray", st.dash);
    g.append("text").attr("x", legendPos[k].text).attr("y", ly + 3.5)
      .attr("font-size", 10).attr("fill", "#222").text(name);
  });
});
</script>
</body></html>
